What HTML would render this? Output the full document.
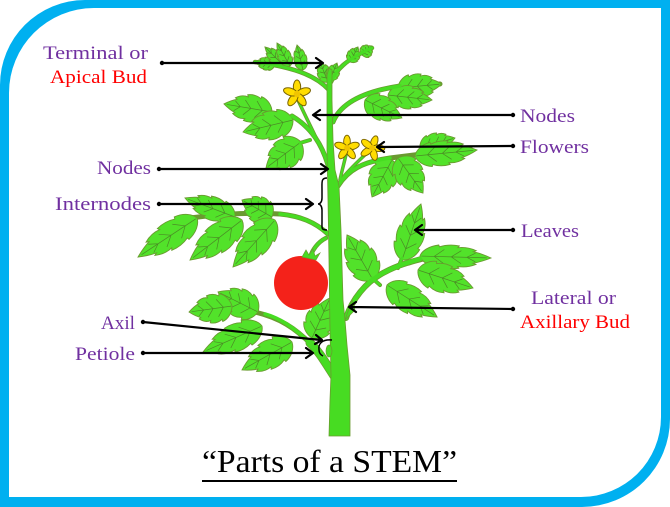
<!DOCTYPE html>
<html><head><meta charset="utf-8"><style>
html,body{margin:0;padding:0;background:#fff;}
svg{display:block;}
.p{font-family:"Liberation Serif","DejaVu Serif",serif;font-size:19px;fill:#7030a0;}
.r{font-family:"Liberation Serif","DejaVu Serif",serif;font-size:19px;fill:#ff0000;}
</style></head><body>
<svg width="670" height="507" viewBox="0 0 670 507" xmlns="http://www.w3.org/2000/svg">
<defs>
<g id="lf">
<path d="M0,0 C2,-14 12,-28 26,-32 L27,-27 C36,-33 46,-34 55,-31 L53,-26 C63,-29 72,-25 79,-19 L75,-16 C85,-12 93,-6 100,0 C93,6 85,12 75,16 L79,19 C72,25 63,29 53,26 L55,31 C46,34 36,33 27,27 L26,32 C12,28 2,14 0,0 Z" fill="#52e22a" stroke="#6a9a30" stroke-width="0.9" vector-effect="non-scaling-stroke"/>
<path d="M2,0 L94,0 M20,0 L34,-20 M44,0 L58,-18 M66,0 L78,-12 M20,0 L34,20 M44,0 L58,18 M66,0 L78,12" fill="none" stroke="#4b8a26" stroke-width="0.7" vector-effect="non-scaling-stroke"/>
</g>
<g id="fl">
<ellipse cx="0" cy="-6" rx="3.2" ry="6.2" fill="#ffdc00" stroke="#7a6400" stroke-width="0.9"/>
<ellipse cx="0" cy="-6" rx="3.2" ry="6.2" fill="#ffdc00" stroke="#7a6400" stroke-width="0.9" transform="rotate(72)"/>
<ellipse cx="0" cy="-6" rx="3.2" ry="6.2" fill="#ffdc00" stroke="#7a6400" stroke-width="0.9" transform="rotate(144)"/>
<ellipse cx="0" cy="-6" rx="3.2" ry="6.2" fill="#ffdc00" stroke="#7a6400" stroke-width="0.9" transform="rotate(216)"/>
<ellipse cx="0" cy="-6" rx="3.2" ry="6.2" fill="#ffdc00" stroke="#7a6400" stroke-width="0.9" transform="rotate(288)"/>
<circle cx="0" cy="0" r="2.8" fill="#f0c400"/>
</g>
</defs>

<!-- frame -->
<path fill-rule="evenodd" fill="#00b0f0" d="M85,0 H670 V419 A88,88 0 0 1 582,507 H0 V85 A85,85 0 0 1 85,0 Z M94,8 H661 V417 A80,80 0 0 1 581,497 H9 V93 A85,85 0 0 1 94,8 Z"/>

<!-- branches outline -->
<g fill="none" stroke="#6a9a30" stroke-linecap="round">
<path d="M329,90 C318,78 300,68 255,62" stroke-width="4.5"/>
<path d="M331,82 C336,70 345,60 372,48" stroke-width="4.5"/>
<path d="M333,122 C340,105 360,92 400,86 L440,84" stroke-width="5"/>
<path d="M328,165 C322,145 312,128 292,116" stroke-width="5"/>
<path d="M310,140 L300,143" stroke-width="4"/>
<path d="M327,162 C318,140 306,118 298,100" stroke-width="3.5"/>
<path d="M340,180 C342,170 345,160 347,150" stroke-width="3.5"/>
<path d="M341,180 C350,168 362,158 370,150" stroke-width="3.5"/>
<path d="M338,186 C348,170 362,162 390,158 L470,148" stroke-width="5"/>
<path d="M328,234 C315,222 300,216 280,214 C250,212 220,214 190,218" stroke-width="5"/>
<path d="M326,238 C318,242 312,250 310,258" stroke-width="4.5"/>
<path d="M334,376 C325,362 318,350 310,343" stroke-width="9"/>
<path d="M312,345 C295,328 280,318 255,312" stroke-width="5"/>
<path d="M346,318 C352,300 365,282 385,272 C398,265 410,262 425,258" stroke-width="6"/>
<path d="M398,268 L402,258" stroke-width="4"/>
<path d="M380,285 L372,278" stroke-width="4"/>
</g>
<!-- leaves -->
<g>
<use href="#lf" transform="translate(398,88) rotate(-5.2) scale(.44,.38)"/>
<use href="#lf" transform="translate(388,95) rotate(6.5) scale(.443,.36)"/>
<use href="#lf" transform="translate(365,100) rotate(25.9) scale(.41,.38)"/>
<use href="#lf" transform="translate(275,65) rotate(-171) scale(.2,.2)"/>
<use href="#lf" transform="translate(284,66) rotate(-135) scale(.27,.2)"/>
<use href="#lf" transform="translate(290,66) rotate(-119.5) scale(.264,.2)"/>
<use href="#lf" transform="translate(303,70) rotate(-103.5) scale(.257,.2)"/>
<use href="#lf" transform="translate(350,62) rotate(-62) scale(.17,.2)"/>
<use href="#lf" transform="translate(362,55) rotate(-42) scale(.135,.2)"/>
<use href="#lf" transform="translate(328,82) rotate(-111.8) scale(.215,.22)"/>
<use href="#lf" transform="translate(330,80) rotate(-67.6) scale(.184,.2)"/>
<use href="#lf" transform="translate(272,112) rotate(-170.5) scale(.487,.42)"/>
<use href="#lf" transform="translate(293,120) rotate(166.5) scale(.514,.44)"/>
<use href="#lf" transform="translate(301,142) rotate(143.4) scale(.436,.46)"/>
<use href="#lf" transform="translate(392,160) rotate(118.4) scale(.42,.44)"/>
<use href="#lf" transform="translate(398,158) rotate(54.5) scale(.43,.44)"/>
<use href="#lf" transform="translate(420,148) rotate(-15.9) scale(.364,.32)"/>
<use href="#lf" transform="translate(415,156) rotate(-5.5) scale(.623,.38)"/>
<use href="#lf" transform="translate(235,217) rotate(-159.2) scale(.535,.36)"/>
<use href="#lf" transform="translate(272,217) rotate(-150.5) scale(.345,.4)"/>
<use href="#lf" transform="translate(197,218) rotate(146.5) scale(.707,.42)"/>
<use href="#lf" transform="translate(242,220) rotate(142.4) scale(.656,.44)"/>
<use href="#lf" transform="translate(275,220) rotate(131.8) scale(.63,.44)"/>
<use href="#lf" transform="translate(258,312) rotate(-153.4) scale(.447,.44)"/>
<use href="#lf" transform="translate(232,306) rotate(172) scale(.434,.44)"/>
<use href="#lf" transform="translate(262,326) rotate(156.2) scale(.645,.42)"/>
<use href="#lf" transform="translate(292,342) rotate(150.8) scale(.573,.44)"/>
<use href="#lf" transform="translate(312,338) rotate(-65.8) scale(.439,.44)"/>
<use href="#lf" transform="translate(402,260) rotate(-71.3) scale(.591,.42)"/>
<use href="#lf" transform="translate(373,280) rotate(-120) scale(.52,.47)"/>
<use href="#lf" transform="translate(420,256) rotate(1.6) scale(.71,.36)"/>
<use href="#lf" transform="translate(418,270) rotate(18.1) scale(.579,.44)"/>
<use href="#lf" transform="translate(387,285) rotate(32.6) scale(.594,.42)"/>
</g>
<!-- branches fill -->
<g fill="none" stroke="#47dc22" stroke-linecap="round">
<path d="M329,90 C318,78 300,68 255,62" stroke-width="3"/>
<path d="M331,82 C336,70 345,60 372,48" stroke-width="3"/>
<path d="M333,122 C340,105 360,92 400,86" stroke-width="3.5"/>
<path d="M328,165 C322,145 312,128 292,116" stroke-width="3.5"/>
<path d="M310,140 L300,143" stroke-width="2.5"/>
<path d="M327,162 C318,140 306,118 298,100" stroke-width="2"/>
<path d="M340,180 C342,170 345,160 347,150" stroke-width="2"/>
<path d="M341,180 C350,168 362,158 370,150" stroke-width="2"/>
<path d="M338,186 C348,170 362,162 390,158" stroke-width="3.5"/>
<path d="M328,234 C315,222 300,216 280,214" stroke-width="3.5"/>
<path d="M326,238 C318,242 312,250 310,258" stroke-width="3"/>
<path d="M334,376 C325,362 318,350 310,343" stroke-width="7.5"/>
<path d="M312,345 C295,328 280,318 265,314" stroke-width="3.5"/>
<path d="M346,318 C352,300 365,282 385,272 C398,265 410,262 420,259" stroke-width="4.5"/>
<path d="M398,268 L402,258" stroke-width="2.5"/>
<path d="M380,285 L372,278" stroke-width="2.5"/>
</g>
<!-- main stem -->
<path d="M329,436 L330,400 L331,375 L330,330 L329,260 L328,200 L327,150 L327,100 L327,75 L329,68 L332,70 L332,100 L333,140 L335,170 L339,186 L341,230 L343,300 L345,320 L347,345 L350,375 L350,436 Z" fill="#47dc22" stroke="#6a9a30" stroke-width="0.8"/>
<!-- lateral bud -->
<path d="M345,320 L352,300 L355,310 Z" fill="#47dc22" stroke="#6a9a30" stroke-width="0.7"/>
<ellipse cx="329" cy="351" rx="3" ry="6" fill="#47dc22" stroke="#6a9a30" stroke-width="0.7"/>
<!-- tomato -->
<circle cx="301" cy="283" r="27" fill="#f4221a"/>
<path d="M302,257 L306,250 L309,255 L313,249 L315,256 L320,253 L316,260 Z" fill="#47dc22" stroke="#6a9a30" stroke-width="0.7"/>
<!-- flowers -->
<use href="#fl" transform="translate(297,94) scale(1.15)"/>
<use href="#fl" transform="translate(347,148) scale(1.05)"/>
<use href="#fl" transform="translate(372,148) rotate(20) scale(1.05)"/>

<!-- arrows -->
<g fill="none" stroke="#000" stroke-width="2.2" stroke-linecap="round" stroke-linejoin="round">
<path d="M162,63 L322,63 M316,58 L323,63 L316,68"/>
<path d="M513,115 L314,115 M320,110 L313,115 L320,120"/>
<path d="M513,146 L378,147 M384,142 L377,147 L384,152"/>
<path d="M159,169 L327,169 M321,164 L328,169 L321,174"/>
<path d="M159,204 L312,204 M306,199 L313,204 L306,209"/>
<path d="M513,230 L416,230 M422,225 L415,230 L422,235"/>
<path d="M513,309 L350,307 M356,302 L349,307 L356,312"/>
<path d="M143,322 L321,340 M316,335 L322,340 L315,344"/>
<path d="M143,353 L312,353 M306,348 L313,353 L306,358"/>
</g>
<g fill="none" stroke="#000" stroke-width="1.5">
<path d="M327,178 C321,178 322,182 322,190 L322,198 C322,202 320,204 318,204 C320,204 322,206 322,210 L322,222 C322,228 321,230 327,230"/>
<path d="M332,340 C322,339 318,344 319,350 C319,353 321,355 323,356"/>
</g>
<g fill="#000">
<circle cx="162" cy="63" r="2.2"/><circle cx="513" cy="115" r="2.2"/><circle cx="513" cy="146" r="2.2"/>
<circle cx="159" cy="169" r="2.2"/><circle cx="159" cy="204" r="2.2"/><circle cx="513" cy="230" r="2.2"/>
<circle cx="513" cy="309" r="2.2"/><circle cx="143" cy="322" r="2.2"/><circle cx="143" cy="353" r="2.2"/>
</g>

<!-- labels -->
<text class="p" x="43" y="59" textLength="105" lengthAdjust="spacingAndGlyphs">Terminal or</text>
<text class="r" x="50" y="83" textLength="97" lengthAdjust="spacingAndGlyphs">Apical Bud</text>
<text class="p" x="97" y="174" textLength="54" lengthAdjust="spacingAndGlyphs">Nodes</text>
<text class="p" x="55" y="210" textLength="96" lengthAdjust="spacingAndGlyphs">Internodes</text>
<text class="p" x="101" y="329" textLength="34" lengthAdjust="spacingAndGlyphs">Axil</text>
<text class="p" x="75" y="360" textLength="60" lengthAdjust="spacingAndGlyphs">Petiole</text>
<text class="p" x="520" y="122" textLength="55" lengthAdjust="spacingAndGlyphs">Nodes</text>
<text class="p" x="520" y="153" textLength="69" lengthAdjust="spacingAndGlyphs">Flowers</text>
<text class="p" x="521" y="237" textLength="58" lengthAdjust="spacingAndGlyphs">Leaves</text>
<text class="p" x="531" y="304" textLength="85" lengthAdjust="spacingAndGlyphs">Lateral or</text>
<text class="r" x="520" y="328" textLength="110" lengthAdjust="spacingAndGlyphs">Axillary Bud</text>

<text x="202" y="472" textLength="255" lengthAdjust="spacingAndGlyphs" style="font-family:'Liberation Serif','DejaVu Serif',serif;font-size:32px;fill:#000;">“Parts of a STEM”</text>
<rect x="202" y="480" width="255" height="2" fill="#000"/>
</svg>
</body></html>
